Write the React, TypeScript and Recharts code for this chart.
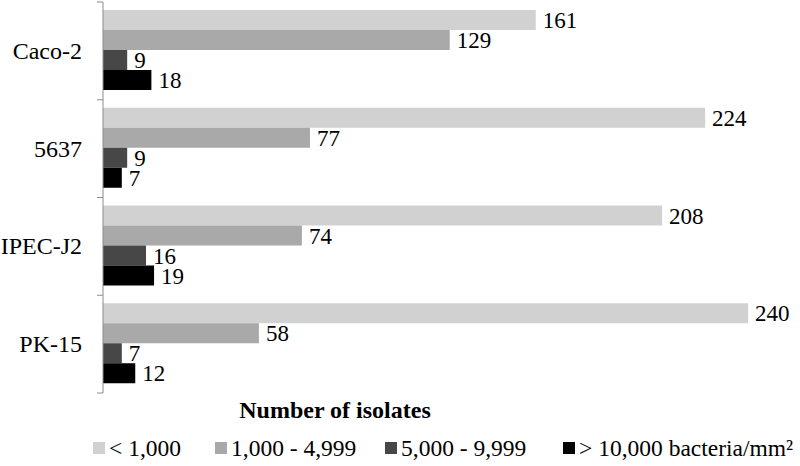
import React from 'react'
import { BarChart, Bar, XAxis, YAxis, LabelList } from 'recharts'

const categories = ['Caco-2', '5637', 'IPEC-J2', 'PK-15']
const under1000 = [161, 224, 208, 240]
const from1000 = [129, 77, 74, 58]
const from5000 = [9, 9, 16, 7]
const over10000 = [18, 7, 19, 12]

const seriesNames = ['< 1,000', '1,000 - 4,999', '5,000 - 9,999', '> 10,000 bacteria/mm²']
const colors = ['#d1d1d1', '#a9a9a9', '#474747', '#000000']
const keys = ['a', 'b', 'c', 'd']
// legend item left edges
const legendX = [93, 215, 385, 563]

const data = categories.map((name, i) => ({
  name,
  a: under1000[i],
  b: from1000[i],
  c: from5000[i],
  d: over10000[i],
}))

const FONT = '"Liberation Serif", "Times New Roman", serif'
const AXIS_X = 103
const TOP = 2
const BOTTOM = 393
const BAND = (BOTTOM - TOP) / categories.length

function CategoryTick(props: any) {
  const { y, payload, index } = props
  const top = y - BAND / 2
  return (
    <g>
      <line x1={AXIS_X - 6} x2={AXIS_X} y1={top} y2={top} stroke="#8c8c8c" />
      {index === categories.length - 1 && (
        <line x1={AXIS_X - 6} x2={AXIS_X} y1={top + BAND} y2={top + BAND} stroke="#8c8c8c" />
      )}
      <text x={AXIS_X - 21} y={y} dy={8} textAnchor="end" fontSize={24} fontFamily={FONT} fill="#000">
        {payload.value}
      </text>
    </g>
  )
}

export default function App() {
  return (
    <div style={{ position: 'absolute', left: 0, top: 0, width: 800, height: 466, background: '#fff' }}>
      <BarChart
        width={800}
        height={466}
        data={data}
        layout="vertical"
        margin={{ top: TOP, right: 25, left: 0, bottom: 466 - BOTTOM }}
        barCategoryGap={8}
        barGap={0}
      >
        <XAxis type="number" domain={[0, 250]} hide />
        <YAxis
          type="category"
          dataKey="name"
          width={AXIS_X}
          axisLine={{ stroke: '#8c8c8c' }}
          tickLine={false}
          tick={<CategoryTick />}
          interval={0}
        />
        {keys.map((k, i) => (
          <Bar key={k} dataKey={k} name={seriesNames[i]} fill={colors[i]} isAnimationActive={false}>
            <LabelList
              dataKey={k}
              position="right"
              offset={7}
              fill="#000"
              fontSize={23}
              fontFamily={FONT}
            />
          </Bar>
        ))}
      </BarChart>
      <div
        style={{
          position: 'absolute',
          left: 335,
          top: 395,
          transform: 'translateX(-50%)',
          fontFamily: FONT,
          fontWeight: 'bold',
          fontSize: 24,
          whiteSpace: 'nowrap',
          lineHeight: '30px',
        }}
      >
        Number of isolates
      </div>
      {seriesNames.map((n, i) => (
        <div
          key={n}
          style={{
            position: 'absolute',
            left: legendX[i],
            top: 433,
            display: 'flex',
            alignItems: 'center',
            fontFamily: FONT,
            fontSize: 23.5,
            lineHeight: '30px',
            whiteSpace: 'nowrap',
          }}
        >
          <span style={{ width: 12, height: 12, background: colors[i], marginRight: 4, display: 'inline-block' }} />
          <span>{n}</span>
        </div>
      ))}
    </div>
  )
}
